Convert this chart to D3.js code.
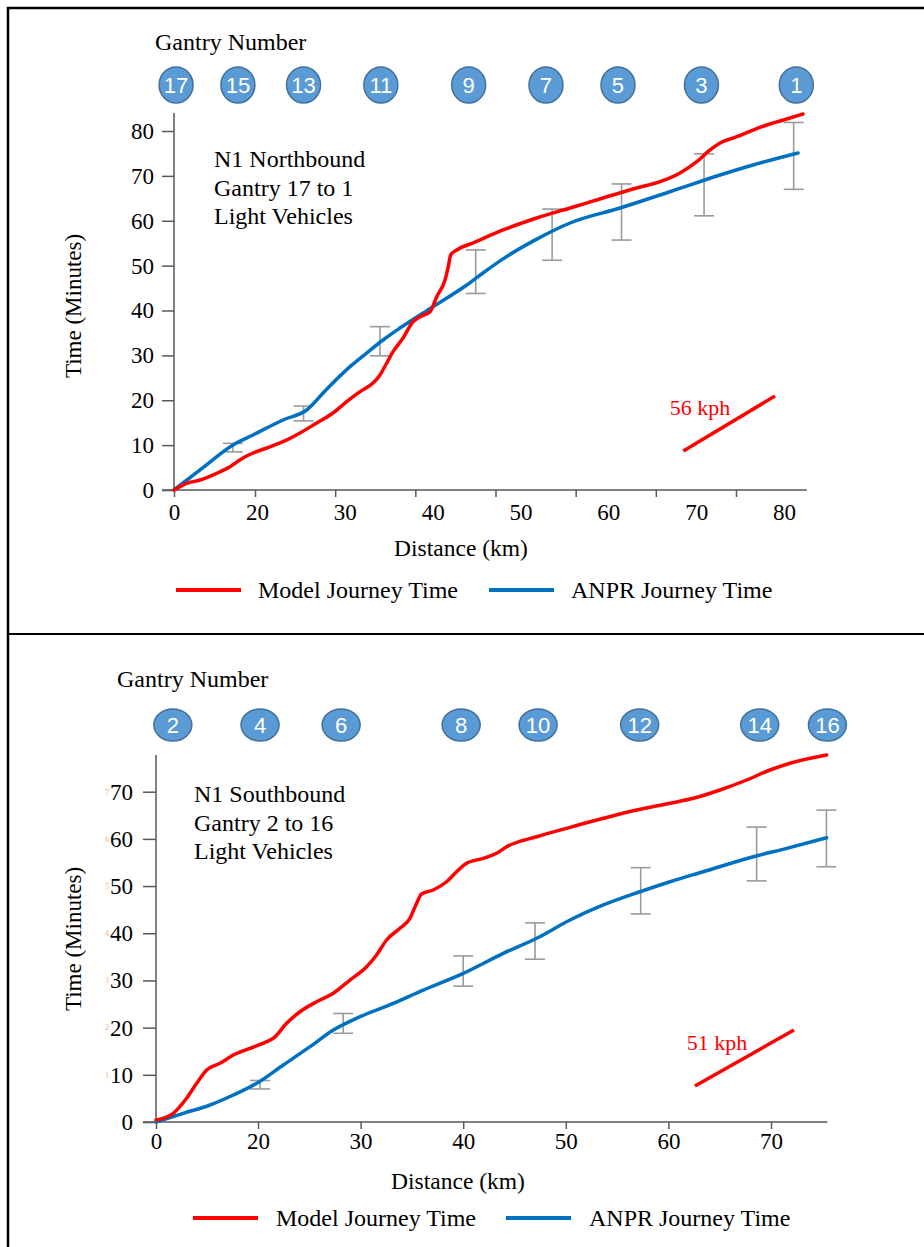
<!DOCTYPE html>
<html>
<head>
<meta charset="utf-8">
<script src="https://cdn.jsdelivr.net/npm/d3@7"></script>
<style>
body { margin: 0; background: #fff; }
text { font-family: "Liberation Serif", "Times New Roman", serif; fill: #000; }
.gantry text { font-family: "Liberation Sans Narrow", "Liberation Sans", sans-serif; fill: #fff; }
</style>
</head>
<body>
<svg id="chart" width="924" height="1247"></svg>
<script>
// ---- N1 Northbound (gantry 17 to 1) ----
var nbXTicks = [0, 20, 30, 40, 50, 60, 70, 80];
var nbYTicks = [0, 10, 20, 30, 40, 50, 60, 70, 80];
var nbGantryNo = [17, 15, 13, 11, 9, 7, 5, 3, 1];
var nbGantryKm = [0.5, 15.4, 25.3, 34.1, 44.1, 52.9, 61.1, 70.6, 81.4];
var nbModelKm = [0, 3.06, 6.27, 10.29, 13.49, 16.63, 19.04, 21.10, 22.96, 24.90, 26.80, 28.65, 30.21, 31.73, 33.21, 34.00, 34.77, 35.49, 36.63, 37.76, 38.56, 39.70, 40.46, 41.41, 41.78, 42.05, 42.74, 44.59, 48.01, 51.85, 55.64, 59.40, 63.23, 65.89, 68.16, 70.07, 71.58, 72.72, 74.62, 76.47, 78.03, 80.31, 82.16];
var nbModelMin = [0, 1.49, 2.23, 3.72, 5.19, 7.13, 8.24, 9.36, 10.76, 12.70, 14.93, 17.16, 19.68, 21.91, 23.84, 25.63, 28.30, 30.82, 33.87, 37.50, 38.62, 39.73, 43.07, 46.80, 49.76, 52.37, 53.48, 55.04, 57.94, 60.61, 62.84, 65.07, 67.30, 68.70, 70.64, 73.16, 75.77, 77.33, 78.73, 80.22, 81.34, 82.67, 83.79];
var nbAnprKm = [0, 6.27, 14.22, 19.04, 22.96, 25.66, 27.9, 30.59, 32.49, 34.35, 36.28, 40.04, 43.88, 45.73, 48.01, 51.85, 55.64, 61.33, 67.02, 72.72, 76.47, 81.59];
var nbAnprMin = [0, 4.46, 10.03, 12.26, 15.60, 17.83, 22.4, 27.48, 30.53, 33.43, 36.10, 40.85, 45.68, 48.36, 51.5, 55.9, 59.50, 62.84, 66.47, 70.19, 72.42, 75.10];
var nbErrKm = [14.2, 25.3, 34.0, 44.9, 53.6, 61.5, 70.9, 81.1];
var nbErrLo = [8.5, 15.4, 29.9, 43.8, 51.2, 55.7, 61.1, 67.0];
var nbErrHi = [10.4, 18.7, 36.4, 53.5, 62.6, 68.2, 74.9, 81.9];
var nbSpeedKm = [68.54, 78.98];
var nbSpeedMin = [8.69, 20.95];

// ---- N1 Southbound (gantry 2 to 16) ----
var sbXTicks = [0, 20, 30, 40, 50, 60, 70];
var sbYTicks = [0, 10, 20, 30, 40, 50, 60, 70];
var sbGantryNo = [2, 4, 6, 8, 10, 12, 14, 16];
var sbGantryKm = [3.3, 20.2, 28.1, 39.8, 47.3, 57.2, 68.9, 75.5];
var sbModelKm = [0, 3.39, 5.99, 7.98, 9.94, 12.55, 15.16, 18.43, 20.85, 21.49, 22.79, 24.09, 25.72, 27.34, 28.96, 30.59, 31.56, 32.53, 33.83, 34.81, 35.46, 35.94, 37.08, 38.38, 39.36, 40.33, 41.96, 43.25, 44.24, 47.16, 50.41, 53.66, 56.91, 60.16, 62.43, 65.03, 67.63, 69.90, 71.85, 75.42];
var sbModelMin = [0.42, 1.84, 5.02, 8.20, 11.02, 12.44, 14.20, 15.62, 17.02, 17.74, 20.92, 23.37, 25.49, 27.27, 30.09, 32.91, 35.39, 38.57, 41.05, 43.17, 46.35, 48.32, 49.17, 50.92, 53.04, 54.82, 55.88, 56.94, 58.34, 60.46, 62.45, 64.36, 66.12, 67.54, 68.60, 70.36, 72.48, 74.60, 76.02, 77.78];
var sbAnprKm = [0, 5.35, 10.59, 15.16, 19.75, 22.47, 25.07, 27.34, 29.94, 33.19, 36.11, 40.01, 43.91, 47.16, 50.41, 53.66, 57.23, 60.16, 63.40, 68.28, 71.53, 75.42];
var sbAnprMin = [0, 1.84, 3.60, 5.72, 8.20, 12.08, 15.96, 19.50, 22.32, 25.15, 27.97, 31.51, 35.75, 38.93, 42.81, 45.99, 48.80, 50.92, 53.04, 56.22, 58.00, 60.25];
var sbErrKm = [20.2, 28.3, 40.0, 47.0, 57.3, 68.6, 75.4];
var sbErrLo = [7.0, 18.8, 28.8, 34.5, 44.1, 51.1, 54.1];
var sbErrHi = [8.8, 23.0, 35.2, 42.2, 53.9, 62.5, 66.1];
var sbSpeedKm = [62.59, 72.24];
var sbSpeedMin = [7.63, 19.50];

var seriesNames = ["Model Journey Time", "ANPR Journey Time"];
var seriesColors = ["#ff0000", "#0070c0"];

var svg = d3.select("#chart");
svg.append("rect").attr("width", 924).attr("height", 1247).attr("fill", "#fff");

// frame
svg.append("line").attr("x1", 8).attr("x2", 8).attr("y1", 7).attr("y2", 1247).attr("stroke", "#000").attr("stroke-width", 2.5);
svg.append("line").attr("x1", 7).attr("x2", 924).attr("y1", 8).attr("y2", 8).attr("stroke", "#000").attr("stroke-width", 2.5);
svg.append("line").attr("x1", 7).attr("x2", 924).attr("y1", 634).attr("y2", 634).attr("stroke", "#000").attr("stroke-width", 2);

function zip(a, b) { return a.map(function(v, i) { return [v, b[i]]; }); }

var serif = "'Liberation Serif', 'Times New Roman', serif";

function drawPanel(c) {
    var g = svg.append("g");
    var x = c.x, y = c.y;
    var x0 = x(0), y0 = y(0);

    // axes
    var ya = g.append("g").attr("transform", "translate(" + x0 + ",0)")
        .call(d3.axisLeft(y).tickValues(c.yTicks).tickSize(c.yTickLen).tickPadding(c.yPad))
        .attr("font-family", serif).attr("font-size", 23);
    ya.select(".domain").remove();
    ya.selectAll("text").attr("fill", "#000");
    ya.selectAll("line").attr("stroke", "#595959").attr("stroke-width", 1.5);

    var xa = g.append("g").attr("transform", "translate(0," + y0 + ")")
        .call(d3.axisBottom(c.xTick).tickValues(c.xTicks).tickFormat("").tickSize(7));
    xa.select(".domain").remove();
    xa.selectAll("line").attr("stroke", "#595959").attr("stroke-width", 1.5);

    var xl = g.append("g").attr("transform", "translate(0," + y0 + ")")
        .call(d3.axisBottom(x).tickValues(c.xTicks).tickSize(0).tickPadding(c.xPad))
        .attr("font-family", serif).attr("font-size", 23);
    xl.select(".domain").remove();
    xl.selectAll("text").attr("fill", "#000");

    g.append("line").attr("x1", x0).attr("x2", x0).attr("y1", y0).attr("y2", y(c.yMax))
        .attr("stroke", "#595959").attr("stroke-width", 1.5);
    g.append("line").attr("x1", x0 - c.yTickLen).attr("x2", x(c.xMax)).attr("y1", y0).attr("y2", y0)
        .attr("stroke", "#595959").attr("stroke-width", 1.5);

    if (c.ghostTicks) {
        g.selectAll(".ghost").data(c.yTicks.filter(function(d) { return d > 0; })).enter()
            .append("text").attr("x", c.ghostX).attr("y", function(d) { return y(d); })
            .attr("dy", "0.35em").attr("text-anchor", "middle")
            .style("font-size", "8px").style("fill", "#f4b183")
            .text(function(d) { return d / 10; });
    }

    // error bars
    var eb = g.selectAll(".err").data(c.errKm).enter().append("g");
    eb.append("line").attr("x1", function(d) { return x(d); }).attr("x2", function(d) { return x(d); })
        .attr("y1", function(d, i) { return y(c.errLo[i]); }).attr("y2", function(d, i) { return y(c.errHi[i]); });
    eb.append("line").attr("x1", function(d) { return x(d) - 10; }).attr("x2", function(d) { return x(d) + 10; })
        .attr("y1", function(d, i) { return y(c.errLo[i]); }).attr("y2", function(d, i) { return y(c.errLo[i]); });
    eb.append("line").attr("x1", function(d) { return x(d) - 10; }).attr("x2", function(d) { return x(d) + 10; })
        .attr("y1", function(d, i) { return y(c.errHi[i]); }).attr("y2", function(d, i) { return y(c.errHi[i]); });
    eb.selectAll("line").attr("stroke", "#9a9a9a").attr("stroke-width", 1.6);

    // series
    var line = d3.line().x(function(d) { return x(d[0]); }).y(function(d) { return y(d[1]); })
        .curve(d3.curveMonotoneX);
    g.append("path").datum(zip(c.anprKm, c.anprMin)).attr("d", line)
        .attr("fill", "none").attr("stroke", seriesColors[1]).attr("stroke-width", 3.5).attr("stroke-linecap", "round");
    g.append("path").datum(zip(c.modelKm, c.modelMin)).attr("d", line)
        .attr("fill", "none").attr("stroke", seriesColors[0]).attr("stroke-width", 3.5).attr("stroke-linecap", "round");

    // speed reference
    g.append("path").datum(zip(c.speedKm, c.speedMin)).attr("d", d3.line().x(function(d) { return x(d[0]); }).y(function(d) { return y(d[1]); }))
        .attr("stroke", "#ff0000").attr("stroke-width", 3.5).attr("fill", "none");
    g.append("text").attr("x", x(c.speedLabel[0])).attr("y", y(c.speedLabel[1]))
        .style("font-size", "22px").style("fill", "#ff0000").text(c.speedText);

    // annotation
    g.selectAll(".note").data(c.notes).enter().append("text")
        .attr("x", c.noteX).attr("y", function(d, i) { return c.noteY + i * 28.5; })
        .style("font-size", "24px").text(function(d) { return d; });

    // gantries
    g.append("text").attr("x", c.gantryTitleX).attr("y", c.gantryTitleY).style("font-size", "24px").text("Gantry Number");
    var gn = g.selectAll(".gantry").data(c.gantryNo).enter().append("g").attr("class", "gantry")
        .attr("transform", function(d, i) { return "translate(" + x(c.gantryKm[i]) + "," + c.gantryY + ")"; });
    gn.append("ellipse").attr("rx", c.gantryRx).attr("ry", c.gantryRy)
        .attr("fill", "#5b9bd5").attr("stroke", "#41719c").attr("stroke-width", 1.5);
    gn.append("text").attr("text-anchor", "middle").attr("dy", "0.36em").style("font-size", "22px")
        .text(function(d) { return d; });

    // axis titles
    g.append("text").attr("x", c.xTitle[0]).attr("y", c.xTitle[1]).attr("text-anchor", "middle")
        .style("font-size", "23.5px").text("Distance (km)");
    g.append("text").attr("transform", "translate(" + c.yTitle[0] + "," + c.yTitle[1] + ") rotate(-90)")
        .attr("text-anchor", "middle").style("font-size", "23px").text("Time (Minutes)");

    // legend
    var lg = g.selectAll(".lg").data(seriesNames).enter().append("g")
        .attr("transform", function(d, i) { return "translate(" + c.legendX[i] + "," + c.legendY + ")"; });
    lg.append("line").attr("x1", 0).attr("x2", 65).attr("stroke", function(d, i) { return seriesColors[i]; })
        .attr("stroke-width", 4);
    lg.append("text").attr("x", c.legendGap).attr("dy", "0.33em").style("font-size", "24px").text(function(d) { return d; });
}

drawPanel({
    x: d3.scaleLinear().domain([0, 20, 80]).range([174, 257, 784]),
    xTick: d3.scaleLinear().domain([0, 20, 80]).range([174, 255, 736]),
    y: d3.scaleLinear().domain([0, 80]).range([490, 131]),
    xTicks: nbXTicks, yTicks: nbYTicks, xMax: 82.6, yMax: 84,
    yTickLen: 12, yPad: 8, xPad: 14, ghostTicks: false,
    errKm: nbErrKm, errLo: nbErrLo, errHi: nbErrHi,
    modelKm: nbModelKm, modelMin: nbModelMin, anprKm: nbAnprKm, anprMin: nbAnprMin,
    speedKm: nbSpeedKm, speedMin: nbSpeedMin, speedLabel: [67.0, 16.7], speedText: "56 kph",
    notes: ["N1 Northbound", "Gantry 17 to 1", "Light Vehicles"], noteX: 214, noteY: 167,
    gantryNo: nbGantryNo, gantryKm: nbGantryKm, gantryY: 85, gantryRx: 17, gantryRy: 18,
    gantryTitleX: 155, gantryTitleY: 50,
    xTitle: [461, 556], yTitle: [81, 306],
    legendX: [176, 489], legendY: 590, legendGap: 82
});

drawPanel({
    x: d3.scaleLinear().domain([0, 20, 70]).range([156, 258, 771]),
    xTick: d3.scaleLinear().domain([0, 20, 70]).range([156, 258, 771]),
    y: d3.scaleLinear().domain([0, 70]).range([1122, 791.7]),
    xTicks: sbXTicks, yTicks: sbYTicks, xMax: 75.5, yMax: 77.8,
    yTickLen: 13, yPad: 10, xPad: 11, ghostTicks: true, ghostX: 107,
    errKm: sbErrKm, errLo: sbErrLo, errHi: sbErrHi,
    modelKm: sbModelKm, modelMin: sbModelMin, anprKm: sbAnprKm, anprMin: sbAnprMin,
    speedKm: sbSpeedKm, speedMin: sbSpeedMin, speedLabel: [61.8, 15.3], speedText: "51 kph",
    notes: ["N1 Southbound", "Gantry 2 to 16", "Light Vehicles"], noteX: 194, noteY: 802,
    gantryNo: sbGantryNo, gantryKm: sbGantryKm, gantryY: 725, gantryRx: 19, gantryRy: 16,
    gantryTitleX: 117, gantryTitleY: 687,
    xTitle: [458, 1189], yTitle: [81, 939],
    legendX: [193, 506], legendY: 1218, legendGap: 83
});
</script>
</body>
</html>
